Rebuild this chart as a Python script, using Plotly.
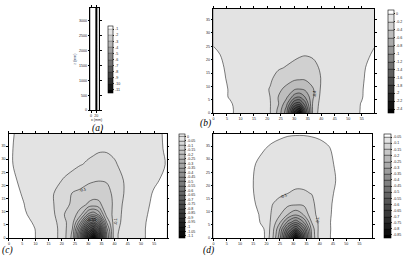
import plotly.graph_objects as go

# ---------------- panel (a) ----------------
XA = [-2, 5, 10, 15, 18, 19.5, 20.5, 21.5, 23, 26, 32]
YA = [0, 1100, 2300, 3430]
ZA = [
    [-0.4, -0.45, -0.5, -0.7, -0.95, -4, -11.5, -4, -1.4, -1.3, -1.2],
    [-0.4, -0.45, -0.5, -0.7, -0.95, -4, -11.5, -4, -1.4, -1.3, -1.2],
    [-0.4, -0.45, -0.5, -0.7, -0.95, -4, -11.5, -4, -1.4, -1.3, -1.2],
    [-0.4, -0.45, -0.5, -0.7, -0.95, -4, -11.5, -4, -1.4, -1.3, -1.2],
]
LEV_A = [-1, -2, -3, -4, -5, -6, -7, -8, -9, -10, -11]
YTICK_A = [0, 500, 1000, 1500, 2000, 2500, 3000]
XTICK_A = [0, 20]

# ---------------- panel (b) ----------------
XB = [0, 6, 12, 17, 21, 24, 27, 30, 32, 34, 37, 40, 44, 50, 55, 60]
YB = [0, 1.5, 3.5, 6, 9, 13, 17, 22, 28, 34, 40]
ZB = [
    [0.05, 0.015, -0.05, -0.12, -0.19, -0.45, -0.9, -2.05, -2.45, -1.5, -0.3, -0.12, -0.07, -0.03, 0.005, 0.05],
    [0.05, 0.015, -0.05, -0.12, -0.19, -0.43, -0.85, -1.85, -2.1, -1.35, -0.32, -0.12, -0.07, -0.03, 0.004, 0.05],
    [0.05, 0.01, -0.05, -0.12, -0.19, -0.38, -0.72, -1.42, -1.5, -1.1, -0.34, -0.13, -0.07, -0.03, 0.003, 0.05],
    [0.045, -0.005, -0.05, -0.12, -0.2, -0.4, -0.55, -0.92, -1.0, -0.8, -0.42, -0.14, -0.07, -0.03, -0.004, 0.045],
    [0.04, -0.005, -0.05, -0.12, -0.21, -0.35, -0.45, -0.57, -0.6, -0.56, -0.41, -0.17, -0.07, -0.03, -0.005, 0.04],
    [0.025, -0.008, -0.045, -0.1, -0.17, -0.26, -0.31, -0.36, -0.37, -0.37, -0.34, -0.19, -0.08, -0.03, -0.006, 0.025],
    [0.015, -0.008, -0.04, -0.08, -0.13, -0.18, -0.21, -0.25, -0.27, -0.28, -0.26, -0.17, -0.08, -0.03, -0.006, 0.015],
    [0.004, -0.006, -0.025, -0.05, -0.08, -0.11, -0.14, -0.16, -0.18, -0.19, -0.17, -0.12, -0.06, -0.025, -0.008, 0.004],
    [-0.004, -0.008, -0.015, -0.03, -0.05, -0.07, -0.09, -0.1, -0.11, -0.11, -0.1, -0.08, -0.05, -0.02, -0.01, -0.004],
    [-0.005, -0.008, -0.012, -0.02, -0.03, -0.04, -0.05, -0.06, -0.06, -0.06, -0.055, -0.045, -0.03, -0.015, -0.008, -0.005],
    [-0.005, -0.006, -0.008, -0.012, -0.018, -0.022, -0.028, -0.032, -0.034, -0.034, -0.03, -0.026, -0.018, -0.01, -0.006, -0.005],
]
LEV_B = [0, -0.2, -0.4, -0.6, -0.8, -1, -1.2, -1.4, -1.6, -1.8, -2, -2.2, -2.4]

# ---------------- panel (c) ----------------
XC = [0, 6, 12, 17, 21, 24, 27, 30, 32, 34, 37, 40, 44, 50, 55, 60]
YC = [0, 1.5, 3.5, 6, 9, 13, 17, 22, 28, 34, 40]
ZC = [
    [0.04, 0.02, -0.01, -0.03, -0.085, -0.165, -0.46, -0.84, -1.08, -0.775, -0.31, -0.06, -0.03, -0.005, 0.01, 0.03],
    [0.04, 0.02, -0.01, -0.03, -0.085, -0.16, -0.45, -0.8, -0.95, -0.75, -0.3, -0.06, -0.03, -0.005, 0.01, 0.03],
    [0.04, 0.018, -0.01, -0.03, -0.085, -0.15, -0.39, -0.69, -0.775, -0.645, -0.265, -0.065, -0.03, -0.005, 0.01, 0.03],
    [0.035, 0.008, -0.01, -0.035, -0.09, -0.13, -0.29, -0.51, -0.57, -0.48, -0.2, -0.07, -0.035, -0.005, 0.008, 0.03],
    [0.03, 0.002, -0.012, -0.045, -0.1, -0.12, -0.18, -0.31, -0.34, -0.29, -0.13, -0.085, -0.03, -0.006, 0.006, 0.03],
    [0.025, -0.001, -0.015, -0.05, -0.09, -0.105, -0.125, -0.155, -0.165, -0.16, -0.125, -0.09, -0.035, -0.008, 0.004, 0.025],
    [0.015, -0.005, -0.02, -0.05, -0.085, -0.102, -0.11, -0.125, -0.13, -0.13, -0.12, -0.085, -0.045, -0.01, 0.002, 0.015],
    [0.004, -0.004, -0.015, -0.035, -0.055, -0.065, -0.08, -0.09, -0.095, -0.098, -0.095, -0.075, -0.045, -0.015, -0.003, 0.005],
    [0.001, -0.003, -0.01, -0.02, -0.03, -0.04, -0.048, -0.055, -0.06, -0.065, -0.065, -0.055, -0.035, -0.015, -0.005, 0.001],
    [0.001, -0.003, -0.008, -0.015, -0.022, -0.03, -0.035, -0.04, -0.042, -0.045, -0.045, -0.04, -0.028, -0.012, -0.004, 0.002],
    [0.001, -0.002, -0.006, -0.01, -0.015, -0.02, -0.024, -0.027, -0.029, -0.03, -0.03, -0.027, -0.02, -0.01, -0.003, 0.002],
]
LEV_C = [0, -0.05, -0.1, -0.15, -0.2, -0.25, -0.3, -0.35, -0.4, -0.45, -0.5, -0.55,
         -0.6, -0.65, -0.7, -0.75, -0.8, -0.85, -0.9, -0.95, -1, -1.05, -1.1]

# ---------------- panel (d) ----------------
XD = [0, 6, 12, 16, 19, 22, 25, 28, 31, 34, 37, 40, 43, 47, 52, 60]
YD = [0, 1.5, 3.5, 6, 9, 13, 17, 22, 28, 34, 40]
ZD = [
    [-0.001, -0.003, -0.01, -0.02, -0.045, -0.13, -0.285, -0.56, -0.84, -0.495, -0.195, -0.075, -0.057, -0.03, -0.015, -0.005],
    [-0.001, -0.003, -0.01, -0.02, -0.045, -0.125, -0.27, -0.52, -0.735, -0.48, -0.19, -0.075, -0.057, -0.03, -0.015, -0.005],
    [-0.001, -0.003, -0.01, -0.022, -0.05, -0.12, -0.25, -0.445, -0.565, -0.415, -0.18, -0.08, -0.058, -0.03, -0.015, -0.005],
    [-0.001, -0.004, -0.012, -0.035, -0.065, -0.11, -0.195, -0.32, -0.395, -0.3, -0.148, -0.085, -0.058, -0.028, -0.014, -0.005],
    [-0.001, -0.004, -0.013, -0.04, -0.068, -0.105, -0.145, -0.2, -0.24, -0.195, -0.115, -0.085, -0.06, -0.03, -0.014, -0.005],
    [-0.001, -0.004, -0.015, -0.052, -0.07, -0.098, -0.115, -0.135, -0.14, -0.14, -0.11, -0.08, -0.06, -0.035, -0.015, -0.005],
    [-0.001, -0.005, -0.02, -0.058, -0.068, -0.08, -0.092, -0.1, -0.105, -0.104, -0.099, -0.08, -0.062, -0.04, -0.015, -0.005],
    [-0.001, -0.005, -0.02, -0.06, -0.068, -0.075, -0.083, -0.088, -0.09, -0.09, -0.085, -0.075, -0.065, -0.045, -0.015, -0.005],
    [-0.001, -0.005, -0.018, -0.052, -0.064, -0.07, -0.075, -0.078, -0.08, -0.08, -0.078, -0.072, -0.063, -0.04, -0.015, -0.005],
    [-0.001, -0.004, -0.015, -0.035, -0.048, -0.058, -0.065, -0.068, -0.07, -0.07, -0.068, -0.064, -0.055, -0.035, -0.013, -0.005],
    [-0.001, -0.003, -0.01, -0.02, -0.03, -0.035, -0.04, -0.045, -0.046, -0.046, -0.044, -0.04, -0.034, -0.022, -0.01, -0.004],
]
LEV_D = [-0.05, -0.1, -0.15, -0.2, -0.25, -0.3, -0.35, -0.4, -0.45, -0.5, -0.55,
         -0.6, -0.65, -0.7, -0.75, -0.8, -0.85]

XTICK_P = [0, 5, 10, 15, 20, 25, 30, 35, 40, 45, 50, 55]
YTICK_P = [0, 5, 10, 15, 20, 25, 30, 35]

# contour labels: (text, x, y, angle)
LAB_B = [("-0.4", 37.4, 7.5, -90)]
LAB_C = [("-0.1", 28, 18.6, -20), ("-0.55", 31.5, 7.2, 0), ("-0.1", 40.2, 6.5, -90)]
LAB_D = [("-0.1", 26.6, 16.2, -25), ("-0.1", 39.4, 7.0, -90)]

W, H = 403, 258
SANS = "Liberation Sans"
SERIF = "Liberation Serif"
LIGHT = "#e3e3e3"


def fx(px):
    return px / W


def fy(py):
    return 1 - py / H


def cscale(nlev):
    return [[0, "#000000"], [(nlev - 1) / nlev, LIGHT], [1, "#ffffff"]]


def contour(x, y, z, lev, xa, ya, cb_x, cb_y0, cb_y1, thick, lw=0.5, smooth=1.0):
    start, end = min(lev), max(lev)
    size = abs(lev[0] - lev[1])
    n = len(lev)
    return go.Contour(
        x=x, y=y, z=z, xaxis=xa, yaxis=ya,
        autocontour=False,
        contours=dict(start=start, end=end, size=size, coloring="fill", showlines=True),
        line=dict(color="black", width=lw, smoothing=smooth),
        colorscale=cscale(n),
        zauto=False, zmin=start - size / 2, zmax=end + size / 2,
        colorbar=dict(
            x=fx(cb_x), xanchor="left", xpad=0, ypad=0,
            y=fy((cb_y0 + cb_y1) / 2), yanchor="middle",
            len=(cb_y1 - cb_y0) / H, lenmode="fraction",
            thickness=thick, thicknessmode="pixels",
            outlinewidth=0.6, outlinecolor="black",
            tickvals=lev, ticktext=[f"{v:g}" for v in lev],
            ticks="outside", ticklen=1.5, tickwidth=0.4, tickcolor="#333",
            tickfont=dict(size=3.6, family=SANS, color="#222"),
        ),
        hoverinfo="skip",
    )


fig = go.Figure()
fig.add_trace(contour(XA, YA, ZA, LEV_A, "x", "y", 107.7, 26, 94, 5, lw=0.25, smooth=0))
fig.add_trace(contour(XB, YB, ZB, LEV_B, "x2", "y2", 388, 10, 114, 6))
fig.add_trace(contour(XC, YC, ZC, LEV_C, "x3", "y3", 178, 135, 240, 6))
fig.add_trace(contour(XD, YD, ZD, LEV_D, "x4", "y4", 384, 135, 240, 6.5))

axstyle = dict(showline=True, linecolor="black", linewidth=0.7, mirror="ticks",
               ticks="outside", ticklen=2, tickwidth=0.5, tickcolor="black",
               showgrid=False, zeroline=False,
               tickfont=dict(size=3.6, family=SANS, color="#222"))

fig.update_layout(
    width=W, height=H, margin=dict(l=0, r=0, t=0, b=0),
    paper_bgcolor="white", plot_bgcolor="white", showlegend=False,
    xaxis=dict(domain=[fx(89.7), fx(98.7)], range=[-2, 32], tickvals=XTICK_A,
               anchor="y", **axstyle),
    yaxis=dict(domain=[fy(111), fy(8)], range=[0, 3430], tickvals=YTICK_A,
               title=dict(text="z (mm)", font=dict(size=3.6, family=SANS), standoff=2),
               anchor="x", **axstyle),
    xaxis2=dict(domain=[fx(213), fx(374)], range=[0, 59.6], tickvals=XTICK_P, anchor="y2", **axstyle),
    yaxis2=dict(domain=[fy(114), fy(9)], range=[0, 39], tickvals=YTICK_P, anchor="x2", **axstyle),
    xaxis3=dict(domain=[fx(8), fx(166)], range=[0, 59.7], tickvals=XTICK_P, anchor="y3", **axstyle),
    yaxis3=dict(domain=[fy(240), fy(135)], range=[0, 39.6], tickvals=YTICK_P, anchor="x3", **axstyle),
    xaxis4=dict(domain=[fx(213), fx(372)], range=[0, 59.7], tickvals=XTICK_P, anchor="y4", **axstyle),
    yaxis4=dict(domain=[fy(240), fy(135)], range=[0, 39.6], tickvals=YTICK_P, anchor="x4", **axstyle),
)

ann = [dict(text="x (mm)", x=fx(95.5), y=fy(120.5), xref="paper", yref="paper",
            showarrow=False, xanchor="center", yanchor="middle",
            font=dict(size=3.6, family=SANS, color="#222"))]
for txt, px, py in [("(a)", 97, 129), ("(b)", 205, 124), ("(c)", 7, 252.5), ("(d)", 208, 252)]:
    ann.append(dict(text=f"<i>{txt}</i>", x=fx(px), y=fy(py), xref="paper", yref="paper",
                    showarrow=False, xanchor="center", yanchor="middle",
                    font=dict(size=9.5, family=SERIF, color="black")))
for labs, xr, yr in [(LAB_B, "x2", "y2"), (LAB_C, "x3", "y3"), (LAB_D, "x4", "y4")]:
    for txt, x, y, ang in labs:
        ann.append(dict(text=txt, x=x, y=y, xref=xr, yref=yr, showarrow=False,
                        textangle=ang, bgcolor="rgba(0,0,0,0)", borderpad=0,
                        font=dict(size=4, family=SANS, color="black")))
fig.update_layout(annotations=ann)

fig.write_html("out.html")
